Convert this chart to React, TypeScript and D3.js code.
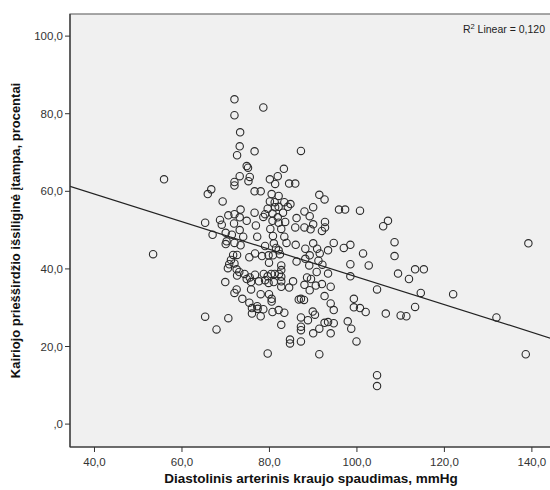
import React from 'react';
import * as d3 from 'd3';

// chart size and the plot frame (frame runs slightly past the right edge, like the source)
const W = 550;
const H = 490;
const frame = { left: 70, right: 552, top: 14, bottom: 447 };

const xTicks = [40, 60, 80, 100, 120, 140];
const yTicks = [0, 20, 40, 60, 80, 100];

const xTitle = 'Diastolinis arterinis kraujo spaudimas, mmHg';
const yTitle = 'Kairiojo priešširdžio išsiliginė įtampa, procentai';
const r2Label = '0,120';

// fitted line y = intercept + slope * x
const fitIntercept = 73.56;
const fitSlope = -0.3564;

// diastolic pressure (mmHg)
const diastolic = [
  55.9, 53.4,
  72.0, 72.0, 73.3,
  73.2, 72.6, 76.6, 74.8, 75.1, 73.2, 72.0, 72.0, 75.5, 75.2, 66.7, 65.9, 76.6, 69.3, 73.4,
  72.0, 70.6, 76.6, 73.2, 74.8, 71.9, 68.7, 69.1, 65.3, 76.9, 73.2, 67.0, 71.4, 70.0, 74.0, 77.2,
  70.2, 70.0, 72.0, 73.4, 71.7, 72.6, 75.4, 76.7, 71.2, 72.0, 70.8, 70.5, 72.5, 73.1, 72.6, 74.3,
  75.5, 76.7, 77.6, 69.9, 74.8, 75.8, 75.8, 72.5, 72.0, 73.8, 75.4, 77.2, 76.0, 77.3, 76.0, 65.3,
  70.6, 67.9,
  78.6,
  81.9, 80.1, 81.3, 83.3, 84.5, 85.9, 78.0, 80.5, 82.1, 81.2, 83.4, 82.1, 84.8, 84.2, 81.3, 80.7,
  79.0, 78.6, 81.9, 83.1, 82.1, 83.6, 86.2, 85.9, 80.2, 82.7, 80.8, 83.4, 80.1, 79.6, 80.7,
  79.0, 81.0, 81.5, 83.9, 86.0, 82.1, 78.3, 79.8, 80.8, 82.4, 79.9, 86.2, 82.7, 82.7, 78.7, 79.6,
  80.4, 81.2, 82.2, 82.7, 79.0, 79.8, 81.0, 82.7, 82.7, 85.4, 84.5, 78.0, 79.9, 80.5, 80.5, 78.6,
  78.0, 80.7, 82.1, 83.4, 82.7, 86.7, 84.7, 84.7, 79.6,
  87.2, 91.4, 92.6, 90.0, 88.0, 89.2, 90.0, 88.0, 89.4, 92.7, 92.7, 92.0, 95.9, 97.3, 100.7, 88.2,
  90.0, 90.9, 91.5, 94.7, 93.4, 97.0, 98.5, 101.4, 89.2, 88.2,
  91.2, 89.1, 92.1, 98.5, 102.7, 93.4, 98.5, 104.6, 90.8, 88.6, 89.5, 88.0, 89.2, 90.6, 92.0, 94.0,
  87.2, 87.9, 92.6, 94.0, 94.7, 89.9, 90.4, 87.2, 88.8, 87.2, 87.2, 92.6, 93.4, 94.7, 91.4, 90.0,
  94.0, 87.2, 99.3, 99.3, 100.7, 102.0, 97.9, 98.7, 99.9, 91.4, 104.6, 104.6,
  107.1, 106.0, 108.6, 139.2, 108.6, 109.4, 113.3, 115.3, 111.9, 114.6, 122.0, 113.3, 106.6, 110.0,
  111.3, 131.9, 138.6,
];

// left atrial strain (%)
const strain = [
  63.1, 43.8,
  83.7, 79.6, 75.2,
  71.6, 69.3, 70.3, 66.5, 66.1, 63.9, 62.4, 61.5, 63.7, 62.6, 60.5, 59.3, 60.0, 57.4, 55.3,
  54.1, 53.8, 54.5, 53.3, 52.4, 51.7, 52.6, 51.4, 51.9, 51.2, 50.0, 48.8, 48.8, 49.3, 48.3, 48.3,
  47.1, 46.4, 46.7, 46.1, 43.6, 43.6, 43.0, 44.0, 42.3, 41.4, 41.2, 40.2, 39.9, 39.2, 38.3, 38.7,
  37.8, 38.5, 36.8, 36.6, 37.4, 36.6, 34.7, 34.7, 33.8, 32.3, 31.3, 30.4, 29.9, 29.7, 28.5, 27.7,
  27.3, 24.4,
  81.6,
  63.9, 63.1, 61.9, 65.8, 62.0, 62.0, 60.0, 59.3, 58.8, 57.2, 57.2, 56.0, 56.7, 56.0, 55.9, 54.3,
  54.1, 53.4, 53.3, 54.5, 51.9, 52.1, 53.1, 50.7, 50.3, 50.3, 48.5, 48.3, 57.4, 55.5, 52.4,
  45.9, 46.6, 45.4, 46.7, 46.2, 44.8, 43.3, 43.5, 43.5, 43.8, 41.6, 41.9, 40.9, 39.7, 38.7, 38.1,
  38.7, 38.7, 38.7, 38.0, 37.1, 36.4, 36.6, 36.8, 35.4, 36.8, 35.2, 33.5, 33.5, 32.3, 31.6, 29.6,
  27.8, 28.9, 29.4, 28.7, 25.6, 32.1, 21.8, 20.8, 18.2,
  70.4, 59.1, 57.9, 55.9, 54.8, 53.6, 51.5, 50.7, 50.2, 52.1, 50.7, 49.8, 55.3, 55.3, 55.0, 45.2,
  46.6, 45.2, 44.0, 46.7, 44.8, 45.4, 46.2, 44.0, 43.5, 42.6,
  42.1, 40.9, 41.1, 41.2, 40.9, 38.8, 38.1, 34.7, 39.2, 37.8, 37.4, 35.9, 34.5, 35.7, 36.1, 35.4,
  32.3, 32.0, 33.0, 31.1, 29.4, 29.0, 28.2, 27.5, 26.8, 25.1, 24.2, 26.1, 26.3, 26.0, 24.6, 23.4,
  23.4, 21.3, 32.3, 30.1, 29.9, 28.9, 26.5, 24.6, 21.3, 18.0, 12.6, 9.8,
  52.4, 51.0, 46.9, 46.6, 43.3, 38.8, 39.9, 39.9, 37.4, 33.8, 33.5, 30.2, 28.5, 28.0,
  27.8, 27.5, 18.0,
];

const fmt = (v: number) => (v === 0 ? ',0' : v.toFixed(1).replace('.', ','));

export default function App() {
  const x = d3.scaleLinear().domain([34.4, 144.6]).range([frame.left, frame.right]);
  const y = d3.scaleLinear().domain([-5.9, 105.7]).range([frame.bottom, frame.top]);

  const points = diastolic.map((d, i) => ({ x: d, y: strain[i] }));
  const [x0, x1] = x.domain();
  const fitPath = d3.line<number>()
    .x(d => x(d))
    .y(d => y(fitIntercept + fitSlope * d))([x0, x1]);

  const font = '"Liberation Sans", Arial, sans-serif';

  return (
    <svg width={W} height={H} style={{ display: 'block', position: 'absolute', left: 0, top: 0, background: '#fff' }}>
      <defs>
        <clipPath id="plot">
          <rect x={frame.left} y={frame.top} width={frame.right - frame.left} height={frame.bottom - frame.top} />
        </clipPath>
      </defs>
      <rect x={frame.left} y={frame.top} width={frame.right - frame.left} height={frame.bottom - frame.top}
        fill="#f0f0f0" stroke="#6e6e6e" strokeWidth={1.2} />

      <g clipPath="url(#plot)">
        {points.map((p, i) => (
          <circle key={i} cx={x(p.x)} cy={y(p.y)} r={3.7} fill="none" stroke="#2b2b2b" strokeWidth={1.1} />
        ))}
        <path d={fitPath ?? ''} fill="none" stroke="#222" strokeWidth={1.2} />
      </g>

      {/* axes */}
      <line x1={frame.left} x2={frame.left} y1={frame.top} y2={frame.bottom} stroke="#333" strokeWidth={1.2} />
      <line x1={frame.left} x2={frame.right} y1={frame.bottom} y2={frame.bottom} stroke="#333" strokeWidth={1.2} />

      {yTicks.map(t => (
        <g key={t}>
          <line x1={frame.left - 5} x2={frame.left} y1={y(t)} y2={y(t)} stroke="#333" />
          <text x={frame.left - 7} y={y(t)} dy="0.35em" textAnchor="end" fontFamily={font} fontSize={11.5} fill="#333">{fmt(t)}</text>
        </g>
      ))}
      {xTicks.map(t => (
        <g key={t}>
          <line x1={x(t)} x2={x(t)} y1={frame.bottom} y2={frame.bottom + 5} stroke="#333" />
          <text x={x(t)} y={frame.bottom + 19} textAnchor="middle" fontFamily={font} fontSize={11.5} fill="#333">{fmt(t)}</text>
        </g>
      ))}

      <text x={(frame.left + frame.right) / 2} y={483} textAnchor="middle" fontFamily={font} fontSize={13.5} fontWeight="bold" fill="#111">{xTitle}</text>
      <text transform={`translate(20,${(frame.top + frame.bottom) / 2}) rotate(-90)`} textAnchor="middle" fontFamily={font} fontSize={13} fontWeight="bold" fill="#111">{yTitle}</text>

      <text x={545} y={33} textAnchor="end" fontFamily={font} fontSize={10.5} fill="#222">
        R<tspan dy={-4} fontSize={7.5}>2</tspan><tspan dy={4}> Linear = {r2Label}</tspan>
      </text>
    </svg>
  );
}
